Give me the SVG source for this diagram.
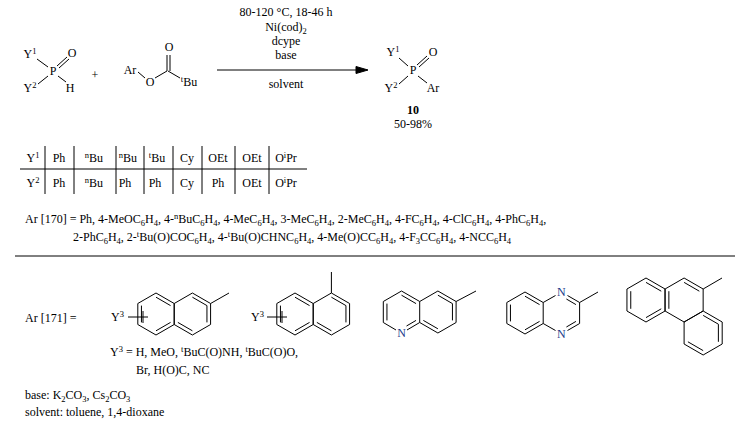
<svg xmlns="http://www.w3.org/2000/svg" width="746" height="428" viewBox="0 0 746 428">
<style>
text{font-family:"Liberation Serif","Times New Roman",serif;font-size:12px;fill:#000}
.c{text-anchor:middle}
.s{font-size:8.5px}
line,path,polyline{stroke:#000;stroke-width:1;fill:none}
.n{fill:#1a3a8a}
</style>
<defs>
<path id="hex" d="M0,-21 L18.19,-10.5 L18.19,10.5 L0,21 L-18.19,10.5 L-18.19,-10.5 Z"/>
<path id="hexL" d="M0,-22 L19.05,-11 L19.05,11 L0,22 L-19.05,11 L-19.05,-11 Z"/>
</defs>

<g id="reactant1">
<text x="30" y="58" class="c">Y<tspan class="s" dy="-4">1</tspan></text>
<text x="53" y="75" class="c">P</text>
<text x="72" y="57" class="c">O</text>
<text x="30" y="92" class="c">Y<tspan class="s" dy="-4">2</tspan></text>
<text x="70" y="92" class="c">H</text>
<line x1="37" y1="59" x2="48" y2="67"/>
<line x1="57" y1="66" x2="67" y2="57"/>
<line x1="59" y1="68" x2="69" y2="59"/>
<line x1="38" y1="84" x2="48" y2="76"/>
<line x1="58" y1="76" x2="66" y2="82"/>
</g>
<text x="95" y="79" class="c">+</text>
<g id="reactant2">
<text x="130" y="74" class="c">Ar</text>
<text x="150" y="86" class="c">O</text>
<text x="169" y="51" class="c">O</text>
<text x="189" y="86" class="c"><tspan class="s" dy="-4">t</tspan><tspan dy="4">Bu</tspan></text>
<line x1="138" y1="72" x2="145" y2="78"/>
<line x1="155" y1="78" x2="167" y2="71"/>
<line x1="167" y1="71" x2="167" y2="55"/>
<line x1="170" y1="71" x2="170" y2="55"/>
<line x1="168" y1="71" x2="180" y2="78"/>
</g>
<g id="arrow">
<line x1="217" y1="70" x2="360" y2="70"/>
<path d="M368,70 L356,66.5 L356,73.5 Z" style="fill:#000"/>
<text x="286" y="16" class="c">80-120 °C, 18-46 h</text>
<text x="286" y="31" class="c">Ni(cod)<tspan class="s" dy="3">2</tspan></text>
<text x="286" y="45" class="c">dcype</text>
<text x="286" y="59" class="c">base</text>
<text x="286" y="88" class="c">solvent</text>
</g>
<g id="product">
<text x="393" y="56" class="c">Y<tspan class="s" dy="-4">1</tspan></text>
<text x="413" y="74" class="c">P</text>
<text x="433" y="56" class="c">O</text>
<text x="391" y="92" class="c">Y<tspan class="s" dy="-4">2</tspan></text>
<text x="433" y="92" class="c">Ar</text>
<line x1="399" y1="58" x2="408" y2="66"/>
<line x1="417" y1="65" x2="427" y2="56"/>
<line x1="419" y1="67" x2="429" y2="58"/>
<line x1="399" y1="84" x2="408" y2="76"/>
<line x1="418" y1="76" x2="427" y2="83"/>
<text x="413" y="114" class="c" style="font-weight:bold">10</text>
<text x="413" y="128" class="c">50-98%</text>
</g>

<g id="table">
<line x1="20" y1="169" x2="307" y2="169"/>
<line x1="45" y1="146" x2="45" y2="194"/>
<line x1="74" y1="146" x2="74" y2="194"/>
<line x1="116" y1="146" x2="116" y2="194"/>
<line x1="144" y1="146" x2="144" y2="194"/>
<line x1="173" y1="146" x2="173" y2="194"/>
<line x1="202" y1="146" x2="202" y2="194"/>
<line x1="235" y1="146" x2="235" y2="194"/>
<line x1="269" y1="146" x2="269" y2="194"/>
<text x="33" y="162" class="c">Y<tspan class="s" dy="-4">1</tspan></text>
<text x="59" y="162" class="c">Ph</text>
<text x="94" y="162" class="c"><tspan class="s" dy="-4">n</tspan><tspan dy="4">Bu</tspan></text>
<text x="128" y="162" class="c"><tspan class="s" dy="-4">n</tspan><tspan dy="4">Bu</tspan></text>
<text x="157" y="162" class="c"><tspan class="s" dy="-4">t</tspan><tspan dy="4">Bu</tspan></text>
<text x="187" y="162" class="c">Cy</text>
<text x="218" y="162" class="c">OEt</text>
<text x="252" y="162" class="c">OEt</text>
<text x="286" y="162" class="c">O<tspan class="s" dy="-4">i</tspan><tspan dy="4">Pr</tspan></text>
<text x="33" y="187" class="c">Y<tspan class="s" dy="-4">2</tspan></text>
<text x="59" y="187" class="c">Ph</text>
<text x="94" y="187" class="c"><tspan class="s" dy="-4">n</tspan><tspan dy="4">Bu</tspan></text>
<text x="125" y="187" class="c">Ph</text>
<text x="155" y="187" class="c">Ph</text>
<text x="187" y="187" class="c">Cy</text>
<text x="218" y="187" class="c">Ph</text>
<text x="252" y="187" class="c">OEt</text>
<text x="286" y="187" class="c">O<tspan class="s" dy="-4">i</tspan><tspan dy="4">Pr</tspan></text>
</g>

<g id="ar170">
<text x="25" y="223">Ar [170] = Ph, 4-MeOC<tspan class="s" dy="3">6</tspan><tspan dy="-3">H</tspan><tspan class="s" dy="3">4</tspan><tspan dy="-3">, 4-</tspan><tspan class="s" dy="-4">n</tspan><tspan dy="4">BuC</tspan><tspan class="s" dy="3">6</tspan><tspan dy="-3">H</tspan><tspan class="s" dy="3">4</tspan><tspan dy="-3">, 4-MeC</tspan><tspan class="s" dy="3">6</tspan><tspan dy="-3">H</tspan><tspan class="s" dy="3">4</tspan><tspan dy="-3">, 3-MeC</tspan><tspan class="s" dy="3">6</tspan><tspan dy="-3">H</tspan><tspan class="s" dy="3">4</tspan><tspan dy="-3">, 2-MeC</tspan><tspan class="s" dy="3">6</tspan><tspan dy="-3">H</tspan><tspan class="s" dy="3">4</tspan><tspan dy="-3">, 4-FC</tspan><tspan class="s" dy="3">6</tspan><tspan dy="-3">H</tspan><tspan class="s" dy="3">4</tspan><tspan dy="-3">, 4-ClC</tspan><tspan class="s" dy="3">6</tspan><tspan dy="-3">H</tspan><tspan class="s" dy="3">4</tspan><tspan dy="-3">, 4-PhC</tspan><tspan class="s" dy="3">6</tspan><tspan dy="-3">H</tspan><tspan class="s" dy="3">4</tspan><tspan dy="-3">,</tspan></text>
<text x="73" y="241">2-PhC<tspan class="s" dy="3">6</tspan><tspan dy="-3">H</tspan><tspan class="s" dy="3">4</tspan><tspan dy="-3">, 2-</tspan><tspan class="s" dy="-4">t</tspan><tspan dy="4">Bu(O)COC</tspan><tspan class="s" dy="3">6</tspan><tspan dy="-3">H</tspan><tspan class="s" dy="3">4</tspan><tspan dy="-3">, 4-</tspan><tspan class="s" dy="-4">t</tspan><tspan dy="4">Bu(O)CHNC</tspan><tspan class="s" dy="3">6</tspan><tspan dy="-3">H</tspan><tspan class="s" dy="3">4</tspan><tspan dy="-3">, 4-Me(O)CC</tspan><tspan class="s" dy="3">6</tspan><tspan dy="-3">H</tspan><tspan class="s" dy="3">4</tspan><tspan dy="-3">, 4-F</tspan><tspan class="s" dy="3">3</tspan><tspan dy="-3">CC</tspan><tspan class="s" dy="3">6</tspan><tspan dy="-3">H</tspan><tspan class="s" dy="3">4</tspan><tspan dy="-3">, 4-NCC</tspan><tspan class="s" dy="3">6</tspan><tspan dy="-3">H</tspan><tspan class="s" dy="3">4</tspan></text>
</g>
<line x1="15" y1="256" x2="735" y2="256"/>

<text x="25" y="322">Ar [171] =</text>

<g id="naph2">
<use href="#hex" x="156" y="314"/>
<use href="#hex" x="192.4" y="314"/>
<g transform="translate(156,314)"><line x1="-14.55" y1="-8.4" x2="-14.55" y2="8.4"/><line x1="0" y1="-16.8" x2="14.55" y2="-8.4"/><line x1="0" y1="16.8" x2="14.55" y2="8.4"/></g>
<g transform="translate(192.4,314)"><line x1="0" y1="-16.8" x2="14.55" y2="-8.4"/><line x1="14.55" y1="8.4" x2="14.55" y2="-8.4"/><line x1="0" y1="16.8" x2="-14.55" y2="8.4"/></g>
<line x1="210.6" y1="303.5" x2="229" y2="293"/>
<text x="111" y="321">Y<tspan class="s" dy="-4">3</tspan></text>
<line x1="128" y1="317" x2="148" y2="317"/>
<line x1="143" y1="311" x2="143" y2="323"/>
</g>

<g id="naph1">
<use href="#hex" x="295" y="314"/>
<use href="#hex" x="331.4" y="314"/>
<g transform="translate(295,314)"><line x1="-14.55" y1="-8.4" x2="-14.55" y2="8.4"/><line x1="0" y1="-16.8" x2="14.55" y2="-8.4"/><line x1="0" y1="16.8" x2="14.55" y2="8.4"/></g>
<g transform="translate(331.4,314)"><line x1="0" y1="-16.8" x2="14.55" y2="-8.4"/><line x1="14.55" y1="8.4" x2="14.55" y2="-8.4"/><line x1="0" y1="16.8" x2="-14.55" y2="8.4"/></g>
<line x1="331.4" y1="293" x2="331.4" y2="272"/>
<text x="251" y="321">Y<tspan class="s" dy="-4">3</tspan></text>
<line x1="267" y1="317" x2="287" y2="317"/>
<line x1="282" y1="311" x2="282" y2="323"/>
</g>

<text x="110" y="356">Y<tspan class="s" dy="-4">3</tspan><tspan dy="4"> = H, MeO, </tspan><tspan class="s" dy="-4">t</tspan><tspan dy="4">BuC(O)NH, </tspan><tspan class="s" dy="-4">t</tspan><tspan dy="4">BuC(O)O,</tspan></text>
<text x="136" y="374">Br, H(O)C, NC</text>

<g id="quinoline">
<polyline points="396,330 383.3,322.5 383.3,301.5 401.5,291 419.7,301.5 437.9,291 456.1,301.5 456.1,322.5 437.9,333 419.7,322.5 407,330"/>
<line x1="419.7" y1="301.5" x2="419.7" y2="322.5"/>
<g transform="translate(401.5,312)"><line x1="-14.55" y1="-8.4" x2="-14.55" y2="8.4"/><line x1="0" y1="-16.8" x2="14.55" y2="-8.4"/><line x1="5" y1="14" x2="14.55" y2="8.4"/></g>
<g transform="translate(437.9,312)"><line x1="0" y1="-16.8" x2="14.55" y2="-8.4"/><line x1="14.55" y1="8.4" x2="14.55" y2="-8.4"/><line x1="0" y1="16.8" x2="-14.55" y2="8.4"/></g>
<line x1="456.1" y1="301.5" x2="476" y2="291"/>
<text x="401.5" y="337" class="c n">N</text>
</g>

<g id="quinoxaline">
<polyline points="543.2,302.5 525,292 506.8,302.5 506.8,323.5 525,334 543.2,323.5 543.2,302.5 555.5,295.5"/>
<polyline points="567.5,295.5 579.6,302.5 579.6,323.5 567.5,330.5"/>
<line x1="555.5" y1="330.5" x2="543.2" y2="323.5"/>
<g transform="translate(525,313)"><line x1="-14.55" y1="-8.4" x2="-14.55" y2="8.4"/><line x1="0" y1="-16.8" x2="14.55" y2="-8.4"/><line x1="0" y1="16.8" x2="14.55" y2="8.4"/></g>
<g transform="translate(561.4,313)"><line x1="5" y1="-14" x2="14.55" y2="-8.4"/><line x1="5" y1="14" x2="14.55" y2="8.4"/></g>
<line x1="579.6" y1="302.5" x2="598" y2="292"/>
<text x="561.4" y="296" class="c n">N</text>
<text x="561.4" y="338" class="c n">N</text>
</g>

<g id="phenanthrene">
<use href="#hexL" x="646" y="300"/>
<use href="#hexL" x="684.1" y="300"/>
<use href="#hexL" x="703.15" y="333"/>
<g transform="translate(646,300)"><line x1="-15.24" y1="-8.8" x2="-15.24" y2="8.8"/><line x1="0" y1="-17.6" x2="15.24" y2="-8.8"/><line x1="0" y1="17.6" x2="15.24" y2="8.8"/></g>
<g transform="translate(684.1,300)"><line x1="0" y1="-17.6" x2="15.24" y2="-8.8"/><line x1="-15.24" y1="8.8" x2="-15.24" y2="-8.8"/></g>
<g transform="translate(703.15,333)"><line x1="15.24" y1="-8.8" x2="15.24" y2="8.8"/><line x1="0" y1="17.6" x2="-15.24" y2="8.8"/><line x1="0" y1="-17.6" x2="15.24" y2="-8.8"/></g>
<line x1="703.15" y1="289" x2="722" y2="278"/>
</g>

<text x="25" y="399">base: K<tspan class="s" dy="2.5">2</tspan><tspan dy="-2.5">CO</tspan><tspan class="s" dy="2.5">3</tspan><tspan dy="-2.5">, Cs</tspan><tspan class="s" dy="2.5">2</tspan><tspan dy="-2.5">CO</tspan><tspan class="s" dy="2.5">3</tspan></text>
<text x="25" y="416">solvent: toluene, 1,4-dioxane</text>
</svg>
